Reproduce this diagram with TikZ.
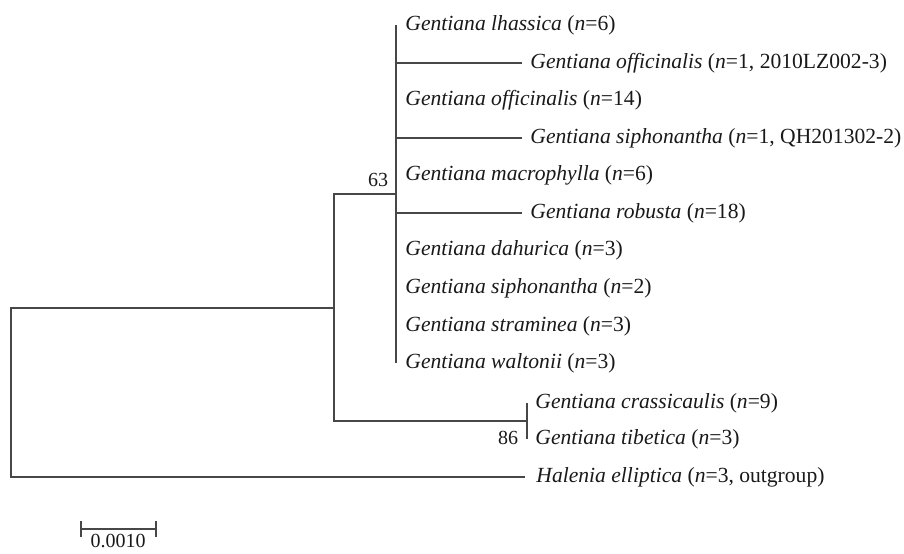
\documentclass[tikz,border=0pt]{standalone}
\usepackage{fontspec}
\setmainfont{Liberation Serif}
\newcommand{\gent}[2]{\textit{Gentiana #1} (\textit{n}=#2)}

\begin{document}
\begin{tikzpicture}[x=0.5pt,y=-0.5pt,
  branch/.style={draw=black!72,line width=1pt},
  taxon/.style={anchor=west,inner sep=0pt,text=black!90,font=\fontsize{10.8}{13}\selectfont},
  bootval/.style={inner sep=0pt,text=black!90,font=\fontsize{10}{12}\selectfont}]
\useasboundingbox (0,0) rectangle (904,553);

% --- internal nodes ---
\coordinate (cRoot) at (11,308);
\coordinate (cIn) at (334,308);
\coordinate (cBig) at (396,194);
\coordinate (cSmall) at (527,421);

% --- taxa of the large clade ---
\foreach \nm/\yy/\xx/\lab in {
  lhas/25/405/{\gent{lhassica}{6}},
  offA/63/530/{\gent{officinalis}{1, 2010LZ002-3}},
  offB/100/405/{\gent{officinalis}{14}},
  sipA/138/530/{\gent{siphonantha}{1, QH201302-2}},
  macr/175/405/{\gent{macrophylla}{6}},
  robu/213/530/{\gent{robusta}{18}},
  dahu/250/405/{\gent{dahurica}{3}},
  sipB/288/405/{\gent{siphonantha}{2}},
  stra/326/405/{\gent{straminea}{3}},
  walt/363/405/{\gent{waltonii}{3}}}
  \node[taxon] (\nm) at (\xx,\yy) {\lab};

% --- other taxa ---
\node[taxon] (cras) at (535,403) {\gent{crassicaulis}{9}};
\node[taxon] (tibe) at (535,439) {\gent{tibetica}{3}};
\node[taxon] (hale) at (536,477) {\textit{Halenia elliptica} (\textit{n}=3, outgroup)};

% --- branches ---
\draw[branch] (lhas.west -| cBig) -- (walt.west -| cBig);
\foreach \nm in {offA,sipA,robu}
  \draw[branch] (\nm.west -| cBig) -- ([xshift=-4pt]\nm.west);
\draw[branch] (cras.west -| cSmall) -- (tibe.west -| cSmall);
\draw[branch] (cBig) -- (cBig -| cIn) -- (cSmall -| cIn) -- (cSmall);
\draw[branch] (cIn) -- (cRoot) -- (cRoot |- hale.west) -- ([xshift=-5.5pt]hale.west);

% --- bootstrap values ---
\node[bootval] (b63) at (378,180) {63};
\node[bootval] (b86) at (508,438) {86};

% --- scale bar ---
\coordinate (sbL) at (81,529);
\coordinate (sbR) at (156,529);
\draw[branch] (sbL) -- (sbR);
\draw[branch] ([yshift=-4pt]sbL) -- ([yshift=4pt]sbL);
\draw[branch] ([yshift=-4pt]sbR) -- ([yshift=4pt]sbR);
\node[bootval] (sbLab) at (118,541) {0.0010};

\end{tikzpicture}
\end{document}
